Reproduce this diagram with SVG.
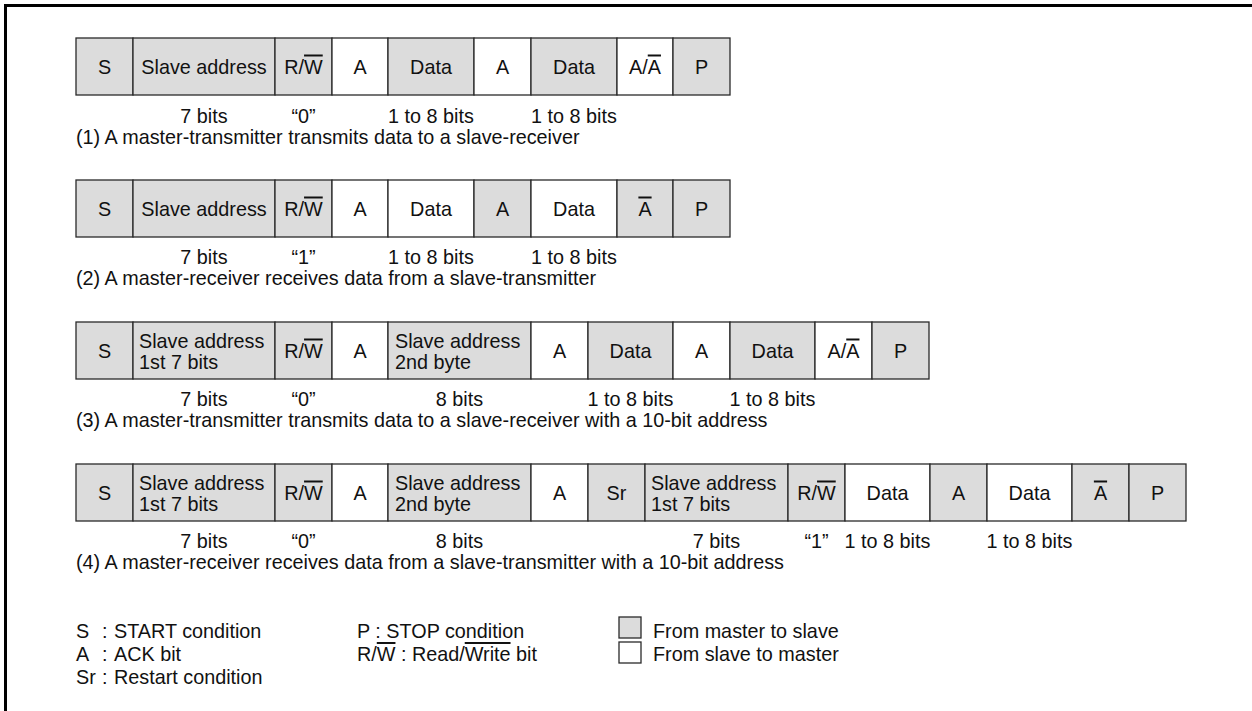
<svg xmlns="http://www.w3.org/2000/svg" width="1252" height="711" viewBox="0 0 1252 711">
<style>
.m{fill:#dcdcdc;stroke:#2a2a2a;stroke-width:1.3}
.s{fill:#ffffff;stroke:#2a2a2a;stroke-width:1.3}
text{font-family:"Liberation Sans",Arial,sans-serif;font-size:19.8px;fill:#111}
.c{text-anchor:middle}
.ol{text-decoration:overline}
</style>
<rect x="0" y="0" width="1252" height="711" fill="#ffffff"/>
<path d="M5.5,711 V5.5 H1252" fill="none" stroke="#000" stroke-width="3"/>

<g id="row1">
<g id="r1-S"><rect class="m" x="76" y="38" width="57" height="57"/><text class="c" x="104.5" y="73.5">S</text></g>
<g id="r1-addr"><rect class="m" x="133" y="38" width="142" height="57"/><text class="c" x="204" y="73.5">Slave address</text></g>
<g id="r1-rw"><rect class="m" x="275" y="38" width="57" height="57"/><text class="c" x="303.5" y="73.5">R/<tspan class="ol">W</tspan></text></g>
<g id="r1-A1"><rect class="s" x="332" y="38" width="56" height="57"/><text class="c" x="360" y="73.5">A</text></g>
<g id="r1-D1"><rect class="m" x="388" y="38" width="86" height="57"/><text class="c" x="431" y="73.5">Data</text></g>
<g id="r1-A2"><rect class="s" x="474" y="38" width="57" height="57"/><text class="c" x="502.5" y="73.5">A</text></g>
<g id="r1-D2"><rect class="m" x="531" y="38" width="86" height="57"/><text class="c" x="574" y="73.5">Data</text></g>
<g id="r1-A3"><rect class="s" x="617" y="38" width="56" height="57"/><text class="c" x="645" y="73.5">A/<tspan class="ol">A</tspan></text></g>
<g id="r1-P"><rect class="m" x="673" y="38" width="57" height="57"/><text class="c" x="701.5" y="73.5">P</text></g>
<g id="r1-bits">
<text class="c" x="204" y="123">7 bits</text>
<text class="c" x="303.5" y="123">“0”</text>
<text class="c" x="431" y="123">1 to 8 bits</text>
<text class="c" x="574" y="123">1 to 8 bits</text>
<text x="76" y="144">(1) A master-transmitter transmits data to a slave-receiver</text>
</g>
</g>

<g id="row2">
<g id="r2-S"><rect class="m" x="76" y="180" width="57" height="57"/><text class="c" x="104.5" y="215.5">S</text></g>
<g id="r2-addr"><rect class="m" x="133" y="180" width="142" height="57"/><text class="c" x="204" y="215.5">Slave address</text></g>
<g id="r2-rw"><rect class="m" x="275" y="180" width="57" height="57"/><text class="c" x="303.5" y="215.5">R/<tspan class="ol">W</tspan></text></g>
<g id="r2-A1"><rect class="s" x="332" y="180" width="56" height="57"/><text class="c" x="360" y="215.5">A</text></g>
<g id="r2-D1"><rect class="s" x="388" y="180" width="86" height="57"/><text class="c" x="431" y="215.5">Data</text></g>
<g id="r2-A2"><rect class="m" x="474" y="180" width="57" height="57"/><text class="c" x="502.5" y="215.5">A</text></g>
<g id="r2-D2"><rect class="s" x="531" y="180" width="86" height="57"/><text class="c" x="574" y="215.5">Data</text></g>
<g id="r2-A3"><rect class="m" x="617" y="180" width="56" height="57"/><text class="c" x="645" y="215.5"><tspan class="ol">A</tspan></text></g>
<g id="r2-P"><rect class="m" x="673" y="180" width="57" height="57"/><text class="c" x="701.5" y="215.5">P</text></g>
<g id="r2-bits">
<text class="c" x="204" y="264">7 bits</text>
<text class="c" x="303.5" y="264">“1”</text>
<text class="c" x="431" y="264">1 to 8 bits</text>
<text class="c" x="574" y="264">1 to 8 bits</text>
<text x="76" y="285">(2) A master-receiver receives data from a slave-transmitter</text>
</g>
</g>

<g id="row3">
<g id="r3-S"><rect class="m" x="76" y="322" width="57" height="57"/><text class="c" x="104.5" y="357.5">S</text></g>
<g id="r3-addr1"><rect class="m" x="133" y="322" width="142" height="57"/><text x="139" y="348">Slave address</text><text x="139" y="369">1st 7 bits</text></g>
<g id="r3-rw"><rect class="m" x="275" y="322" width="57" height="57"/><text class="c" x="303.5" y="357.5">R/<tspan class="ol">W</tspan></text></g>
<g id="r3-A1"><rect class="s" x="332" y="322" width="56" height="57"/><text class="c" x="360" y="357.5">A</text></g>
<g id="r3-addr2"><rect class="m" x="388" y="322" width="143" height="57"/><text x="395" y="348">Slave address</text><text x="395" y="369">2nd byte</text></g>
<g id="r3-A2"><rect class="s" x="531" y="322" width="57" height="57"/><text class="c" x="559.5" y="357.5">A</text></g>
<g id="r3-D1"><rect class="m" x="588" y="322" width="85" height="57"/><text class="c" x="630.5" y="357.5">Data</text></g>
<g id="r3-A3"><rect class="s" x="673" y="322" width="57" height="57"/><text class="c" x="701.5" y="357.5">A</text></g>
<g id="r3-D2"><rect class="m" x="730" y="322" width="85" height="57"/><text class="c" x="772.5" y="357.5">Data</text></g>
<g id="r3-A4"><rect class="s" x="815" y="322" width="57" height="57"/><text class="c" x="843.5" y="357.5">A/<tspan class="ol">A</tspan></text></g>
<g id="r3-P"><rect class="m" x="872" y="322" width="57" height="57"/><text class="c" x="900.5" y="357.5">P</text></g>
<g id="r3-bits">
<text class="c" x="204" y="406">7 bits</text>
<text class="c" x="303.5" y="406">“0”</text>
<text class="c" x="459.5" y="406">8 bits</text>
<text class="c" x="630.5" y="406">1 to 8 bits</text>
<text class="c" x="772.5" y="406">1 to 8 bits</text>
<text x="76" y="427">(3) A master-transmitter transmits data to a slave-receiver with a 10-bit address</text>
</g>
</g>

<g id="row4">
<g id="r4-S"><rect class="m" x="76" y="464" width="57" height="57"/><text class="c" x="104.5" y="499.5">S</text></g>
<g id="r4-addr1"><rect class="m" x="133" y="464" width="142" height="57"/><text x="139" y="490">Slave address</text><text x="139" y="511">1st 7 bits</text></g>
<g id="r4-rw1"><rect class="m" x="275" y="464" width="57" height="57"/><text class="c" x="303.5" y="499.5">R/<tspan class="ol">W</tspan></text></g>
<g id="r4-A1"><rect class="s" x="332" y="464" width="56" height="57"/><text class="c" x="360" y="499.5">A</text></g>
<g id="r4-addr2"><rect class="m" x="388" y="464" width="143" height="57"/><text x="395" y="490">Slave address</text><text x="395" y="511">2nd byte</text></g>
<g id="r4-A2"><rect class="s" x="531" y="464" width="57" height="57"/><text class="c" x="559.5" y="499.5">A</text></g>
<g id="r4-Sr"><rect class="m" x="588" y="464" width="57" height="57"/><text class="c" x="616.5" y="499.5">Sr</text></g>
<g id="r4-addr3"><rect class="m" x="645" y="464" width="143" height="57"/><text x="651" y="490">Slave address</text><text x="651" y="511">1st 7 bits</text></g>
<g id="r4-rw2"><rect class="m" x="788" y="464" width="57" height="57"/><text class="c" x="816.5" y="499.5">R/<tspan class="ol">W</tspan></text></g>
<g id="r4-D1"><rect class="s" x="845" y="464" width="85" height="57"/><text class="c" x="887.5" y="499.5">Data</text></g>
<g id="r4-A3"><rect class="m" x="930" y="464" width="57" height="57"/><text class="c" x="958.5" y="499.5">A</text></g>
<g id="r4-D2"><rect class="s" x="987" y="464" width="85" height="57"/><text class="c" x="1029.5" y="499.5">Data</text></g>
<g id="r4-A4"><rect class="m" x="1072" y="464" width="57" height="57"/><text class="c" x="1100.5" y="499.5"><tspan class="ol">A</tspan></text></g>
<g id="r4-P"><rect class="m" x="1129" y="464" width="57" height="57"/><text class="c" x="1157.5" y="499.5">P</text></g>
<g id="r4-bits">
<text class="c" x="204" y="548">7 bits</text>
<text class="c" x="303.5" y="548">“0”</text>
<text class="c" x="459.5" y="548">8 bits</text>
<text class="c" x="716.5" y="548">7 bits</text>
<text class="c" x="816.5" y="548">“1”</text>
<text class="c" x="887.5" y="548">1 to 8 bits</text>
<text class="c" x="1029.5" y="548">1 to 8 bits</text>
<text x="76" y="569">(4) A master-receiver receives data from a slave-transmitter with a 10-bit address</text>
</g>
</g>

<g id="legend">
<g id="leg-S"><text x="76" y="638">S</text><text x="102" y="638">:</text><text x="114" y="638">START condition</text></g>
<g id="leg-A"><text x="76" y="661">A</text><text x="102" y="661">:</text><text x="114" y="661">ACK bit</text></g>
<g id="leg-Sr"><text x="76" y="684">Sr</text><text x="102" y="684">:</text><text x="114" y="684">Restart condition</text></g>
<g id="leg-P"><text x="357" y="638">P : STOP condition</text></g>
<g id="leg-RW"><text x="357" y="661">R/<tspan class="ol">W</tspan> : Read/<tspan class="ol">Write</tspan> bit</text></g>
<g id="leg-m2s"><rect class="m" x="619" y="617" width="22" height="21"/><text x="653" y="638">From master to slave</text></g>
<g id="leg-s2m"><rect class="s" x="619" y="642" width="22" height="21"/><text x="653" y="661">From slave to master</text></g>
</g>
</svg>
